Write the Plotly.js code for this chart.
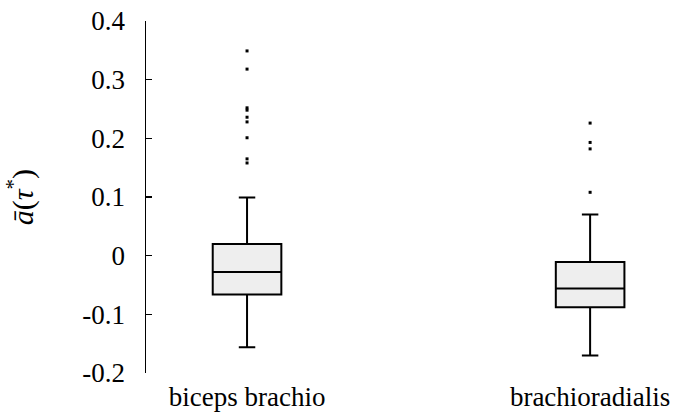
<!DOCTYPE html>
<html>
<head>
<meta charset="utf-8">
<script src="https://cdn.plot.ly/plotly-3.0.1.min.js"></script>
<style>
  html, body { margin: 0; padding: 0; background: #ffffff; }
  #chart { width: 680px; height: 416px; }
</style>
</head>
<body>
<div id="chart"></div>
<script>
// Muscle groups
const muscles = ["biceps brachio", "brachioradialis"];

// Box statistics per muscle
const lowerFence = [-0.156, -0.170];
const quartile1 = [-0.066, -0.088];
const medians = [-0.028, -0.056];
const quartile3 = [0.020, -0.011];
const upperFence = [0.099, 0.070];

// Outlying observations
const outliersBiceps = [0.349, 0.318, 0.252, 0.248, 0.236, 0.228, 0.201, 0.165, 0.158];
const outliersBrachio = [0.226, 0.193, 0.182, 0.108];

// Y-axis ticks
const yTicks = [-0.2, -0.1, 0, 0.1, 0.2, 0.3, 0.4];
const yTickText = ["-0.2", "-0.1", "0", "0.1", "0.2", "0.3", "0.4"];

const serif = "Liberation Serif";
const fs = 27;

const boxTrace = {
  type: "box",
  x: muscles,
  q1: quartile1,
  median: medians,
  q3: quartile3,
  lowerfence: lowerFence,
  upperfence: upperFence,
  width: 0.2,
  whiskerwidth: 0.24,
  fillcolor: "#eeeeee",
  line: { color: "#000000", width: 2 },
  boxpoints: false,
  hoverinfo: "skip",
  showlegend: false
};

const outX = outliersBiceps.map(() => muscles[0]).concat(outliersBrachio.map(() => muscles[1]));
const outY = outliersBiceps.concat(outliersBrachio);

const outlierTrace = {
  type: "scatter",
  mode: "markers",
  x: outX,
  y: outY,
  marker: { color: "#000000", size: 3, symbol: "square" },
  hoverinfo: "skip",
  showlegend: false
};

const layout = {
  width: 680,
  height: 416,
  margin: { l: 146, r: 0, t: 21, b: 43, pad: 0 },
  paper_bgcolor: "#ffffff",
  plot_bgcolor: "#ffffff",
  font: { family: serif, size: fs, color: "#000000" },
  showlegend: false,
  xaxis: {
    type: "category",
    categoryarray: muscles,
    range: [-0.2945, 1.262],
    showline: false,
    showgrid: false,
    zeroline: false,
    ticks: "",
    tickfont: { family: serif, size: fs, color: "#000000" },
    ticklabelstandoff: 5
  },
  yaxis: {
    range: [-0.2, 0.4],
    tickvals: yTicks,
    ticktext: yTickText,
    showline: true,
    linecolor: "#000000",
    linewidth: 1.5,
    showgrid: false,
    zeroline: false,
    ticks: "inside",
    ticklen: 6,
    tickwidth: 1.5,
    tickcolor: "#000000",
    tickfont: { family: serif, size: fs, color: "#000000" },
    ticklabelstandoff: 14,
    title: {
      text: "<i>ā</i>(<i>τ</i><sup>*</sup>)",
      font: { family: serif, size: 30, color: "#000000" },
      standoff: 40
    }
  }
};

Plotly.newPlot("chart", [boxTrace, outlierTrace], layout, { staticPlot: true, displayModeBar: false });
</script>
</body>
</html>
